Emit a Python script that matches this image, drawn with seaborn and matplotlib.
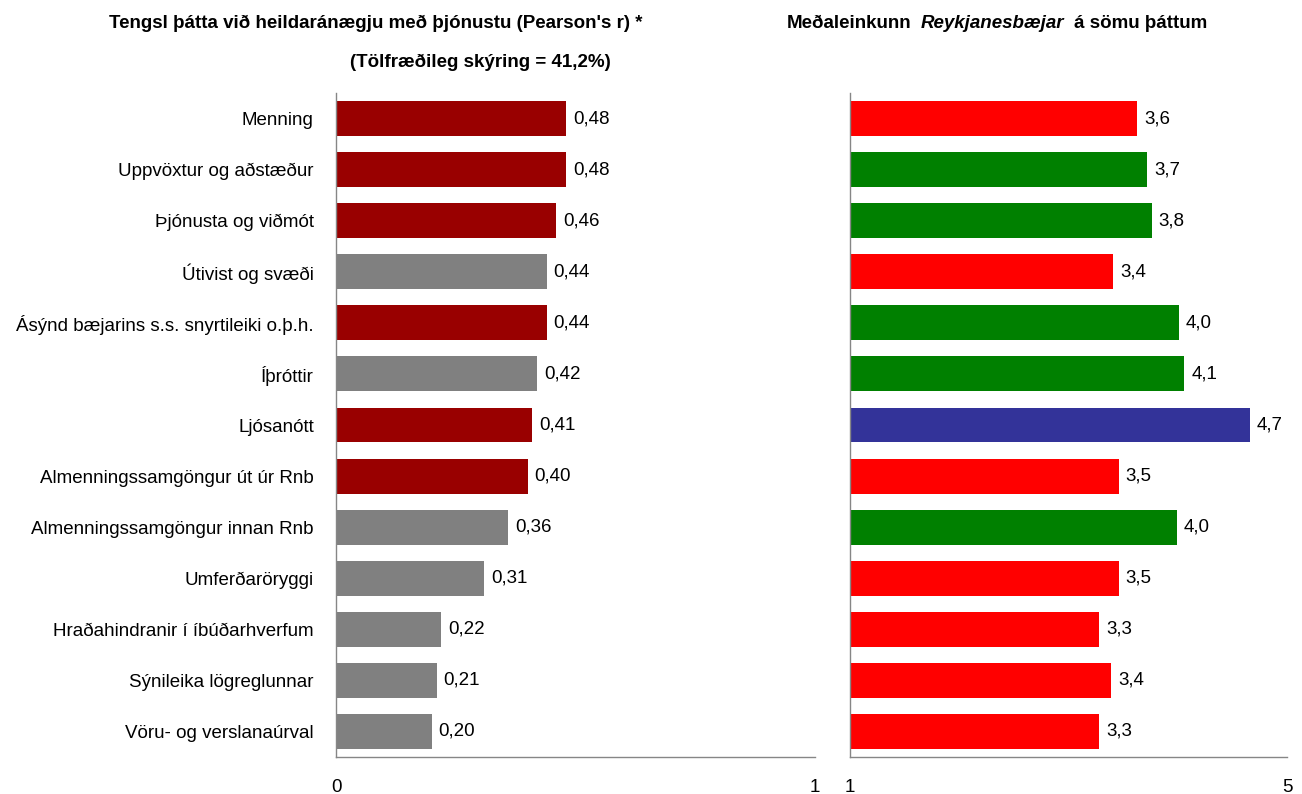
import numpy as np
import pandas as pd
import matplotlib
matplotlib.use("Agg")
import matplotlib.pyplot as plt
import seaborn as sns
from matplotlib.ticker import FixedLocator

# -------------------------
# Data
# -------------------------

categories = [
    "Menning",
    "Uppvöxtur og aðstæður",
    "Þjónusta og viðmót",
    "Útivist og svæði",
    "Ásýnd bæjarins s.s. snyrtileiki o.þ.h.",
    "Íþróttir",
    "Ljósanótt",
    "Almenningssamgöngur út úr Rnb",
    "Almenningssamgöngur innan Rnb",
    "Umferðaröryggi",
    "Hraðahindranir í íbúðarhverfum",
    "Sýnileika lögreglunnar",
    "Vöru- og verslanaúrval",
]

pearson_r = [0.48, 0.48, 0.46, 0.44, 0.44, 0.42, 0.41, 0.40, 0.36, 0.31, 0.22, 0.21, 0.20]
mean_score = [3.63, 3.72, 3.76, 3.41, 4.01, 4.06, 4.66, 3.46, 3.99, 3.46, 3.28, 3.39, 3.28]

left_colors = ["#990000", "#990000", "#990000", "#808080", "#990000", "#808080", "#990000",
               "#990000", "#808080", "#808080", "#808080", "#808080", "#808080"]
right_colors = ["#FF0000", "#008000", "#008000", "#FF0000", "#008000", "#008000", "#333399",
                "#FF0000", "#008000", "#FF0000", "#FF0000", "#FF0000", "#FF0000"]

left_title_1 = "Tengsl þátta við heildaránægju með þjónustu (Pearson's r) *"
left_title_2 = "(Tölfræðileg skýring = 41,2%)"
right_title = ["Meðaleinkunn", "Reykjanesbæjar", "á sömu þáttum"]

df = pd.DataFrame({"flokkur": categories, "r": pearson_r, "einkunn": mean_score})

# -------------------------
# Style
# -------------------------

sns.set_style("white")
plt.rcParams["font.family"] = ["Liberation Sans", "DejaVu Sans"]
plt.rcParams["text.color"] = "black"
fs = 13.5

fig = plt.figure(figsize=(13.02, 7.94), dpi=100)
ax1 = fig.add_axes([336 / 1302, 1 - 757 / 794, 479 / 1302, 664 / 794])
ax2 = fig.add_axes([850 / 1302, 1 - 757 / 794, 437 / 1302, 664 / 794])

sns.barplot(data=df, x="r", y="flokkur", hue="flokkur", palette=left_colors,
            saturation=1, legend=False, width=0.685, linewidth=0, ax=ax1)
sns.barplot(data=df, x="einkunn", y="flokkur", hue="flokkur", palette=right_colors,
            saturation=1, legend=False, width=0.685, linewidth=0, ax=ax2)

for cont, v in zip(ax1.containers, pearson_r):
    ax1.bar_label(cont, labels=[f"{v:.2f}".replace(".", ",")], padding=5,
                  fontsize=fs, color="black")
for cont, v in zip(ax2.containers, mean_score):
    ax2.bar_label(cont, labels=[f"{v:.1f}".replace(".", ",")], padding=5,
                  fontsize=fs, color="black")

ax1.set_xlim(0, 1)
ax1.set_xticks([0, 1])
ax1.set_xticklabels(["0", "1"])
ax2.set_xlim(1, 5)
ax2.set_xticks([1, 5])
ax2.set_xticklabels(["1", "5"])

for ax in (ax1, ax2):
    ax.set_ylim(len(categories) - 0.5, -0.5)
    ax.set_xlabel("")
    ax.set_ylabel("")
    for side in ("top", "right"):
        ax.spines[side].set_visible(False)
    for side in ("left", "bottom"):
        ax.spines[side].set_color("#868686")
        ax.spines[side].set_linewidth(1)
    ax.yaxis.set_minor_locator(FixedLocator(np.arange(-0.5, len(categories), 1)))
    ax.tick_params(axis="y", which="major", length=0, pad=16, labelsize=fs, labelcolor="black")
    ax.tick_params(axis="y", which="minor", length=2.5, width=1, color="#868686", direction="out")
    ax.tick_params(axis="x", which="major", length=4, width=1, color="#868686",
                   direction="out", pad=12, labelsize=fs, labelcolor="black")
    ax.grid(False)

ax2.set_yticklabels([])

# -------------------------
# Titles
# -------------------------

fig.text(376 / 1302, 1 - 23 / 794, left_title_1, ha="center", va="center",
         fontsize=fs, fontweight="bold")
fig.text(480 / 1302, 1 - 62 / 794, left_title_2, ha="center", va="center",
         fontsize=fs, fontweight="bold")

renderer = fig.canvas.get_renderer()
styles = ["normal", "italic", "normal"]
pieces = []
for s, st in zip(right_title, styles):
    t = fig.text(0, 1 - 23 / 794, s, ha="left", va="center", fontsize=fs,
                 fontweight="bold", fontstyle=st)
    pieces.append(t)
gap = 10
widths = [t.get_window_extent(renderer).width for t in pieces]
total = sum(widths) + gap * (len(pieces) - 1)
x = 997 - total / 2
for t, w in zip(pieces, widths):
    t.set_x(x / 1302)
    x += w + gap

fig.savefig("out.png", dpi=100)
